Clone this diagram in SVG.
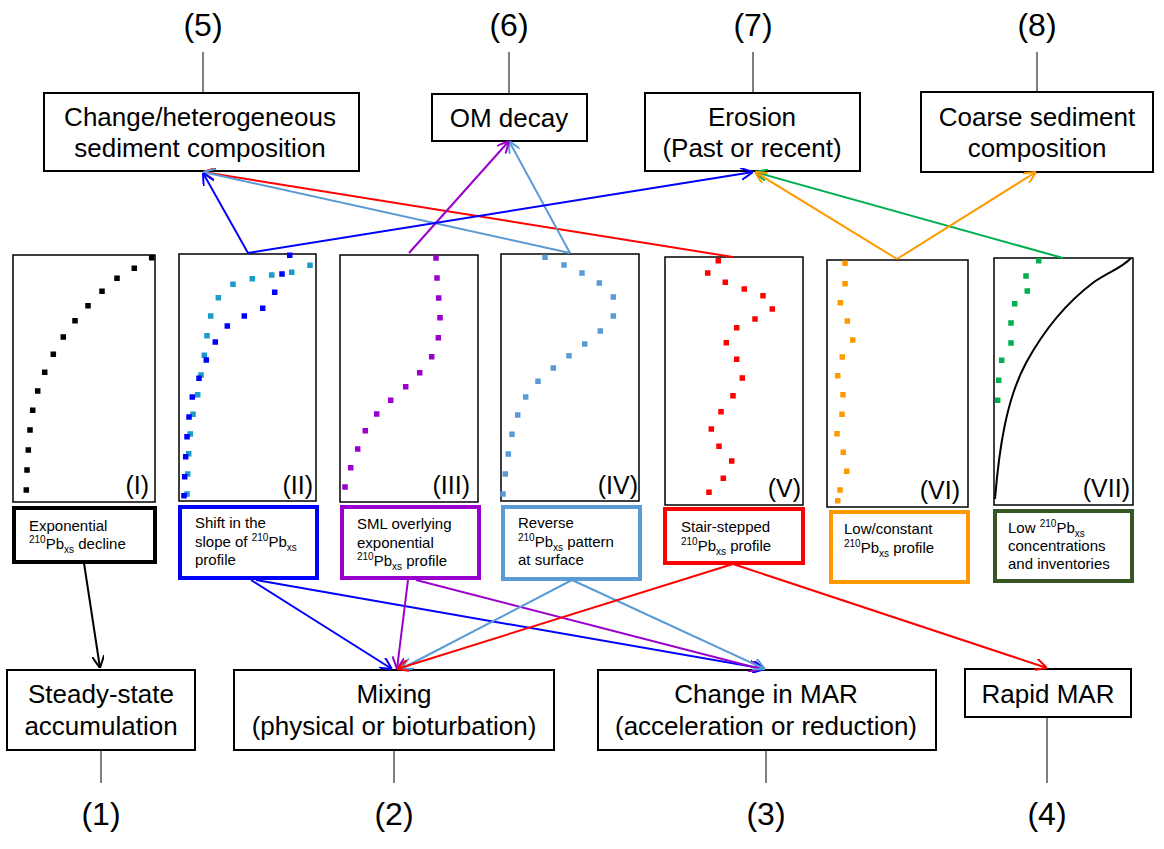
<svg xmlns="http://www.w3.org/2000/svg" width="1164" height="849" viewBox="0 0 1164 849">
<style>
text{font-family:"Liberation Sans",Arial,sans-serif;fill:#000}
.num{font-size:32px;text-anchor:middle}
.ttl{font-size:26px;text-anchor:middle}
.lbl{font-size:15px}
.sm{font-size:10px}
.rom{font-size:25px;text-anchor:end}
.box{fill:#fff;stroke:#000;stroke-width:2}
.panel{fill:#fff;stroke:#000;stroke-width:1.5}
.tick{stroke:#000;stroke-width:1;fill:none}
.dots{fill:none;stroke-width:5.5;stroke-linecap:square}
.lb{fill:#fff;stroke-width:4}
.c{fill:none;stroke-width:2}
</style>
<defs>
<marker id="aK" viewBox="0 0 12 12" refX="12" refY="6" markerWidth="12" markerHeight="12" markerUnits="userSpaceOnUse" orient="auto"><path d="M0,0 L12,6 L0,12" fill="none" stroke="#000" stroke-width="2"/></marker>
<marker id="aB" viewBox="0 0 12 12" refX="12" refY="6" markerWidth="12" markerHeight="12" markerUnits="userSpaceOnUse" orient="auto"><path d="M0,0 L12,6 L0,12" fill="none" stroke="#0000FF" stroke-width="2"/></marker>
<marker id="aP" viewBox="0 0 12 12" refX="12" refY="6" markerWidth="12" markerHeight="12" markerUnits="userSpaceOnUse" orient="auto"><path d="M0,0 L12,6 L0,12" fill="none" stroke="#9900CC" stroke-width="2"/></marker>
<marker id="aL" viewBox="0 0 12 12" refX="12" refY="6" markerWidth="12" markerHeight="12" markerUnits="userSpaceOnUse" orient="auto"><path d="M0,0 L12,6 L0,12" fill="none" stroke="#5B9BD5" stroke-width="2"/></marker>
<marker id="aR" viewBox="0 0 12 12" refX="12" refY="6" markerWidth="12" markerHeight="12" markerUnits="userSpaceOnUse" orient="auto"><path d="M0,0 L12,6 L0,12" fill="none" stroke="#FF0000" stroke-width="2"/></marker>
<marker id="aO" viewBox="0 0 12 12" refX="12" refY="6" markerWidth="12" markerHeight="12" markerUnits="userSpaceOnUse" orient="auto"><path d="M0,0 L12,6 L0,12" fill="none" stroke="#FF9900" stroke-width="2"/></marker>
<marker id="aG" viewBox="0 0 12 12" refX="12" refY="6" markerWidth="12" markerHeight="12" markerUnits="userSpaceOnUse" orient="auto"><path d="M0,0 L12,6 L0,12" fill="none" stroke="#00B050" stroke-width="2"/></marker>
</defs>
<rect width="1164" height="849" fill="#fff"/>

<!-- top nodes -->
<g id="n5">
<text class="num" x="203" y="36">(5)</text>
<line class="tick" x1="203" y1="52" x2="203" y2="93"/>
<rect class="box" x="44" y="93" width="315" height="78"/>
<text class="ttl" x="200" y="126">Change/heterogeneous</text>
<text class="ttl" x="200" y="157">sediment composition</text>
</g>
<g id="n6">
<text class="num" x="509" y="36">(6)</text>
<line class="tick" x1="509" y1="52" x2="509" y2="94"/>
<rect class="box" x="432" y="94" width="155" height="47"/>
<text class="ttl" x="509" y="127">OM decay</text>
</g>
<g id="n7">
<text class="num" x="753" y="36">(7)</text>
<line class="tick" x1="753" y1="52" x2="753" y2="93"/>
<rect class="box" x="645" y="93" width="215" height="78"/>
<text class="ttl" x="752" y="126">Erosion</text>
<text class="ttl" x="752" y="157">(Past or recent)</text>
</g>
<g id="n8">
<text class="num" x="1037" y="36">(8)</text>
<line class="tick" x1="1037" y1="52" x2="1037" y2="92"/>
<rect class="box" x="921" y="92" width="232" height="80"/>
<text class="ttl" x="1037" y="126">Coarse sediment</text>
<text class="ttl" x="1037" y="157">composition</text>
</g>

<!-- panels -->
<g id="p1">
<rect class="panel" x="13" y="255" width="142" height="247"/>
<path class="dots" stroke="#000" d="M151.7,257.7h.01M134.3,268.3h.01M117,278.3h.01M102,291.3h.01M88,305.7h.01M75,320.7h.01M63.3,337h.01M53.3,354.3h.01M44.7,372.3h.01M37.7,391h.01M32.7,410.3h.01M30,430h.01M28.3,450h.01M27,470h.01M26.3,490h.01"/>
<text class="rom" x="149" y="494">(I)</text>
</g>
<g id="p2">
<rect class="panel" x="179" y="254" width="137" height="247"/>
<path class="dots" stroke="#1A9BC9" d="M310,265.3h.01M291.7,272.3h.01M271.7,275h.01M252.3,278.7h.01M233,284.3h.01M218.3,297.7h.01M210.7,316h.01M207,335.7h.01M204.3,355.3h.01M201,375h.01M197.7,394.7h.01M193,414.3h.01M190.3,434h.01M188.7,453.7h.01M187.7,474h.01M187,494h.01"/>
<path class="dots" stroke="#0000FF" d="M289.7,255.3h.01M282,274h.01M274.7,292.3h.01M262.7,308.3h.01M244.3,316h.01M227.3,326h.01M215.3,342h.01M206.3,360h.01M199,378.3h.01M192.3,397h.01M189,417h.01M187,436.7h.01M185.7,456.7h.01M184.7,476.7h.01M184,495.7h.01"/>
<text class="rom" x="313" y="494">(II)</text>
</g>
<g id="p3">
<rect class="panel" x="340" y="255" width="138" height="247"/>
<path class="dots" stroke="#9900CC" d="M436,258h.01M437,278h.01M438.7,298h.01M440,317.7h.01M438.3,337.7h.01M431.7,356.7h.01M419.7,372.7h.01M405.7,386.7h.01M390.7,400.3h.01M376.7,414h.01M365.3,430.7h.01M357.7,449h.01M350.7,467.7h.01M345,487h.01"/>
<text class="rom" x="470" y="494">(III)</text>
</g>
<g id="p4">
<rect class="panel" x="501" y="254" width="138" height="247"/>
<path class="dots" stroke="#5B9BD5" d="M545,257.3h.01M564,265h.01M582,273h.01M599.3,283h.01M613.3,297h.01M613.3,316h.01M600.3,331h.01M584.7,344h.01M569,355.7h.01M553.3,368h.01M538,381.3h.01M525.7,397h.01M517.7,415h.01M512,434.3h.01M508.3,454h.01M505.3,474h.01M503,494h.01"/>
<text class="rom" x="638" y="494">(IV)</text>
</g>
<g id="p5">
<rect class="panel" x="665" y="257" width="138" height="248"/>
<path class="dots" stroke="#FF0000" d="M718.3,260.7h.01M707.7,273h.01M725.3,282.3h.01M744.3,289h.01M763,295.7h.01M772.3,309h.01M755,319h.01M736.7,327.7h.01M726.3,342.7h.01M736.7,359.3h.01M742.3,378h.01M733,395.7h.01M721,411.7h.01M711.3,429h.01M719,446.3h.01M731.7,461h.01M723.3,478.3h.01M709,492.3h.01"/>
<text class="rom" x="801" y="497">(V)</text>
</g>
<g id="p6">
<rect class="panel" x="827" y="260" width="141" height="247"/>
<path class="dots" stroke="#FF9900" d="M845,263.3h.01M845,283.7h.01M840.3,302.7h.01M847.3,321h.01M852.7,340h.01M842.3,357h.01M837.7,375.7h.01M843,394.7h.01M842,414.3h.01M837,433.7h.01M843.3,452.3h.01M846.7,471.3h.01M840,490h.01M837.7,500.7h.01"/>
<text class="rom" x="960" y="499">(VI)</text>
</g>
<g id="p7">
<rect class="panel" x="994" y="258" width="139" height="247"/>
<path class="dots" stroke="#00B050" d="M1038.7,260.7h.01M1026,276h.01M1027.3,291h.01M1014.7,303.7h.01M1011,323h.01M1011,343h.01M1001.7,360.3h.01M998.7,380.3h.01M997.7,400.3h.01"/>
<path d="M995,499 C999,450 1006,400 1026,363 C1045,328 1070,300 1094,282 C1110,271 1122,268 1131,258" fill="none" stroke="#000" stroke-width="2"/>
<text class="rom" x="1130" y="497">(VII)</text>
</g>

<!-- label boxes -->
<g id="l1">
<rect class="lb" stroke="#000" x="14" y="508" width="141" height="54"/>
<text class="lbl" x="29" y="531">Exponential</text>
<text class="lbl" x="29" y="549"><tspan class="sm" dy="-6">210</tspan><tspan dy="6">Pb</tspan><tspan class="sm" dy="4">xs</tspan><tspan dy="-4"> decline</tspan></text>
</g>
<g id="l2">
<rect class="lb" stroke="#0000FF" x="180" y="507" width="137" height="71"/>
<text class="lbl" x="195" y="528">Shift in the</text>
<text class="lbl" x="195" y="547">slope of <tspan class="sm" dy="-6">210</tspan><tspan dy="6">Pb</tspan><tspan class="sm" dy="4">xs</tspan></text>
<text class="lbl" x="195" y="565">profile</text>
</g>
<g id="l3">
<rect class="lb" stroke="#9900CC" x="342" y="507" width="137" height="71"/>
<text class="lbl" x="357" y="529">SML overlying</text>
<text class="lbl" x="357" y="548">exponential</text>
<text class="lbl" x="357" y="566"><tspan class="sm" dy="-6">210</tspan><tspan dy="6">Pb</tspan><tspan class="sm" dy="4">xs</tspan><tspan dy="-4"> profile</tspan></text>
</g>
<g id="l4">
<rect class="lb" stroke="#5B9BD5" x="503" y="507" width="137" height="72"/>
<text class="lbl" x="518" y="528">Reverse</text>
<text class="lbl" x="518" y="547"><tspan class="sm" dy="-6">210</tspan><tspan dy="6">Pb</tspan><tspan class="sm" dy="4">xs</tspan><tspan dy="-4"> pattern</tspan></text>
<text class="lbl" x="518" y="565">at surface</text>
</g>
<g id="l5">
<rect class="lb" stroke="#FF0000" x="665" y="509" width="138" height="54"/>
<text class="lbl" x="681" y="532">Stair-stepped</text>
<text class="lbl" x="681" y="551"><tspan class="sm" dy="-6">210</tspan><tspan dy="6">Pb</tspan><tspan class="sm" dy="4">xs</tspan><tspan dy="-4"> profile</tspan></text>
</g>
<g id="l6">
<rect class="lb" stroke="#FF9900" x="831" y="512" width="137" height="70"/>
<text class="lbl" x="844" y="534">Low/constant</text>
<text class="lbl" x="844" y="553"><tspan class="sm" dy="-6">210</tspan><tspan dy="6">Pb</tspan><tspan class="sm" dy="4">xs</tspan><tspan dy="-4"> profile</tspan></text>
</g>
<g id="l7">
<rect class="lb" stroke="#375623" x="995" y="511" width="137" height="70"/>
<text class="lbl" x="1008" y="533">Low <tspan class="sm" dy="-6">210</tspan><tspan dy="6">Pb</tspan><tspan class="sm" dy="4">xs</tspan></text>
<text class="lbl" x="1008" y="551">concentrations</text>
<text class="lbl" x="1008" y="569">and inventories</text>
</g>

<!-- bottom nodes -->
<g id="n1">
<rect class="box" x="7" y="670" width="188" height="80"/>
<text class="ttl" x="101" y="703">Steady-state</text>
<text class="ttl" x="101" y="735">accumulation</text>
<line class="tick" x1="101" y1="750" x2="101" y2="783"/>
<text class="num" x="101" y="825">(1)</text>
</g>
<g id="n2">
<rect class="box" x="234" y="670" width="320" height="80"/>
<text class="ttl" x="394" y="703">Mixing</text>
<text class="ttl" x="394" y="735">(physical or bioturbation)</text>
<line class="tick" x1="394" y1="750" x2="394" y2="783"/>
<text class="num" x="394" y="825">(2)</text>
</g>
<g id="n3">
<rect class="box" x="598" y="670" width="338" height="80"/>
<text class="ttl" x="766" y="703">Change in MAR</text>
<text class="ttl" x="766" y="735">(acceleration or reduction)</text>
<line class="tick" x1="766" y1="750" x2="766" y2="783"/>
<text class="num" x="766" y="825">(3)</text>
</g>
<g id="n4">
<rect class="box" x="965" y="669" width="166" height="48"/>
<text class="ttl" x="1048" y="703">Rapid MAR</text>
<line class="tick" x1="1047" y1="717" x2="1047" y2="783"/>
<text class="num" x="1047" y="825">(4)</text>
</g>

<!-- connectors -->
<g id="connectors">
<path class="c" stroke="#FF0000" d="M733,257 L203,172" marker-end="url(#aR)"/>
<path class="c" stroke="#5B9BD5" d="M570,253 L203,172" marker-end="url(#aL)"/>
<path class="c" stroke="#5B9BD5" d="M570,253 L509,141" marker-end="url(#aL)"/>
<path class="c" stroke="#9900CC" d="M409,253 L509,141" marker-end="url(#aP)"/>
<path class="c" stroke="#0000FF" d="M248,253 L203,173" marker-end="url(#aB)"/>
<path class="c" stroke="#0000FF" d="M248,253 L753,172" marker-end="url(#aB)"/>
<path class="c" stroke="#00B050" d="M1063,258 L755,172" marker-end="url(#aG)"/>
<path class="c" stroke="#FF9900" d="M897,259 L755,172" marker-end="url(#aO)"/>
<path class="c" stroke="#FF9900" d="M897,259 L1036,172" marker-end="url(#aO)"/>

<path class="c" stroke="#000" stroke-width="1.5" d="M84,563 L100,668" marker-end="url(#aK)"/>
<path class="c" stroke="#0000FF" d="M251,580 L392,669" marker-end="url(#aB)"/>
<path class="c" stroke="#0000FF" d="M256,580 L765,669" marker-end="url(#aB)"/>
<path class="c" stroke="#9900CC" stroke-width="1.5" d="M408,580 L397,669" marker-end="url(#aP)"/>
<path class="c" stroke="#9900CC" d="M416,580 L761,669" marker-end="url(#aP)"/>
<path class="c" stroke="#5B9BD5" d="M572,580 L401,669" marker-end="url(#aL)"/>
<path class="c" stroke="#5B9BD5" d="M572,580 L765,669" marker-end="url(#aL)"/>
<path class="c" stroke="#FF0000" d="M733,564 L397,669" marker-end="url(#aR)"/>
<path class="c" stroke="#FF0000" d="M733,564 L1047,668" marker-end="url(#aR)"/>
</g>
</svg>
